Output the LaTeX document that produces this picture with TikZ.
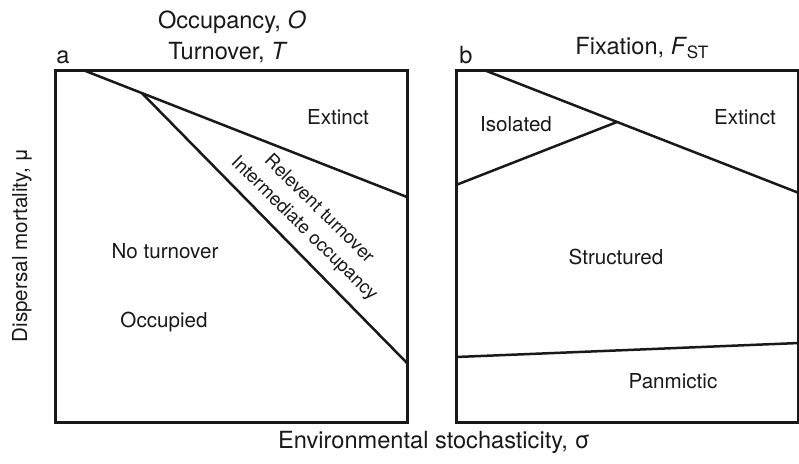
\documentclass[tikz,border=0pt]{standalone}
\usepackage{fontspec}
\setmainfont{TeX Gyre Heros}
\usetikzlibrary{positioning}
\tikzset{
  frame/.style={line width=1.5pt, black!90},
  bound/.style={line width=1.25pt, black!90},
  lbl/.style={font=\fontsize{10.3}{12}\selectfont, inner sep=0pt, text=black!90},
  slant/.style={font=\fontsize{9.3}{11}\selectfont, inner sep=0pt, text=black!90, rotate=-44.5},
  ttl/.style={font=\fontsize{11.8}{14}\selectfont, inner sep=0pt, anchor=base, text=black!90},
  tag/.style={font=\fontsize{11.8}{14}\selectfont, inner sep=0pt, anchor=base west, text=black!90},
}

\begin{document}
\begin{tikzpicture}[x=0.5pt, y=-0.5pt]
\useasboundingbox (0,0) rectangle (799,463);

% panel a: occupancy and turnover
\draw[frame] (55,70) rectangle (407,422);
\coordinate (a1) at (83,70);
\coordinate (a2) at (407,197);
\coordinate (ak) at (142,93.2);
\coordinate (a3) at (407,363);
\draw[bound] (a1) -- (a2);
\draw[bound] (ak) -- (a3);
\node[tag] (ta) at (56,63) {a};
\node[ttl] (occ) at (232,28) {Occupancy, \textit{O}};
\node[ttl] (turn) at (228,59) {Turnover, \textit{T}};
\node[lbl] (exa) at (338,117) {Extinct};
\node[lbl] (notu) at (165,251) {No turnover};
\node[lbl] (ocpd) at (164,322) {Occupied};
\node[slant] (relt) at (320,208) {Relevent turnover};
\node[slant] (intm) at (304,229) {Intermediate occupancy};

% panel b: fixation
\draw[frame] (456,70) rectangle (798,422);
\coordinate (b1) at (484,70);
\coordinate (b2) at (799,193);
\coordinate (bk) at (617,122);
\coordinate (b3) at (456,185);
\coordinate (b4) at (456,357);
\coordinate (b5) at (799,343);
\draw[bound] (b1) -- (b2);
\draw[bound] (b3) -- (bk);
\draw[bound] (b4) -- (b5);
\node[tag] (tb) at (459,63) {b};
\node[tag] (fix) at (575,54) {Fixation, \textit{F}\textsubscript{\fontsize{8.5}{9}\selectfont ST}};
\node[lbl] (exb) at (745,117) {Extinct};
\node[lbl] (isol) at (516,124) {Isolated};
\node[lbl] (struc) at (616,257) {Structured};
\node[lbl] (panm) at (673,381) {Panmictic};

% axis titles
\node[lbl, rotate=90] (ylab) at (22,245) {Dispersal mortality, μ};
\node[ttl] (xlab) at (434,448) {Environmental stochasticity, σ};
\end{tikzpicture}
\end{document}
